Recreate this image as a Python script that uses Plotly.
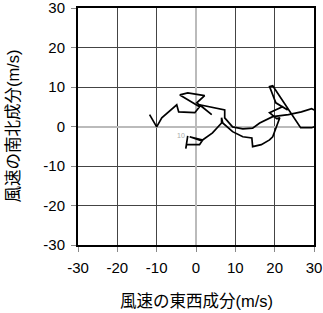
import plotly.graph_objects as go

# Hodograph wind components (m/s), in path order
u_east = [-2.1, -2.6, -2.4, 0.9, 1.7, -1.6, 1.4, 4.2, 6.5, 6.5, 6.8, 9.3, 11.9, 14.2, 14.4,
          16.6, 18.7, 19.5, 20.5, 21.3, 20.5, 18.7, 22.0, 23.3, 20.3, 18.7, 19.5, 26.6, 29.4,
          35.0, 29.4, 26.8, 23.5, 19.5, 16.2, 14.4, 11.9, 9.3, 7.3, 7.3, 0.9, 4.0, 0.2,
          2.2, -2.1, -4.1, 0.9, -0.3, -4.4, -4.9, -8.7, -10.0, -11.8]
v_north = [-2.4, -5.6, -4.6, -4.6, -3.4, -2.6, -3.6, -1.6, 0.9, 2.2, 0.9, -1.3, -2.6, -2.9, -5.1,
           -4.6, -3.4, -2.6, -0.1, 2.2, 2.0, 3.5, 5.0, 4.2, 6.0, 10.1, 10.3, -0.3, -0.3,
           1.7, 4.5, 3.7, 3.0, 2.5, 0.9, -0.4, -0.6, -0.1, 2.2, 4.2, 5.5, 3.0, 6.0,
           7.8, 8.5, 8.0, 5.0, 3.5, 3.7, 5.5, 2.2, -0.1, 3.0]
start_label = "10"
tick_vals = [-30, -20, -10, 0, 10, 20, 30]
x_title = "風速の東西成分(m/s)"
y_title = "風速の南北成分(m/s)"

FONT = "Liberation Sans, Arial, Noto Sans CJK JP"

fig = go.Figure()
fig.add_trace(go.Scatter(x=u_east, y=v_north, mode="lines",
                         line=dict(color="black", width=1.7), showlegend=False,
                         hoverinfo="skip"))
fig.add_annotation(x=u_east[0], y=v_north[0], text=start_label, showarrow=False,
                   xanchor="right", yanchor="middle", xshift=-1,
                   font=dict(size=7, color="#aaaaaa", family=FONT))

axis_common = dict(range=[-30, 30], tickvals=tick_vals, ticktext=[str(t) for t in tick_vals],
                   showgrid=True, gridcolor="#444444", gridwidth=1,
                   zeroline=True, zerolinecolor="#bbbbbb", zerolinewidth=2,
                   showline=True, linecolor="black", linewidth=2, mirror=True,
                   ticks="outside", ticklen=5, tickcolor="#888888", tickwidth=1,
                   automargin=False, ticklabelstandoff=3, ticklabeloverflow="allow",
                   tickfont=dict(size=15, color="black", family=FONT))

fig.update_layout(
    width=323, height=313,
    margin=dict(l=78, r=9, t=8, b=68),
    paper_bgcolor="white", plot_bgcolor="white",
    xaxis=dict(**axis_common),
    yaxis=dict(**axis_common),
)
fig.add_annotation(xref="paper", yref="paper", x=0.5, y=0, yshift=-56,
                   text=x_title, showarrow=False, xanchor="center", yanchor="middle",
                   font=dict(size=16.5, color="black", family=FONT))
fig.add_annotation(xref="paper", yref="paper", x=0, y=0.5, xshift=-66,
                   text=y_title, showarrow=False, textangle=-90,
                   xanchor="center", yanchor="middle",
                   font=dict(size=16.5, color="black", family=FONT))
fig.write_html("out.html")
